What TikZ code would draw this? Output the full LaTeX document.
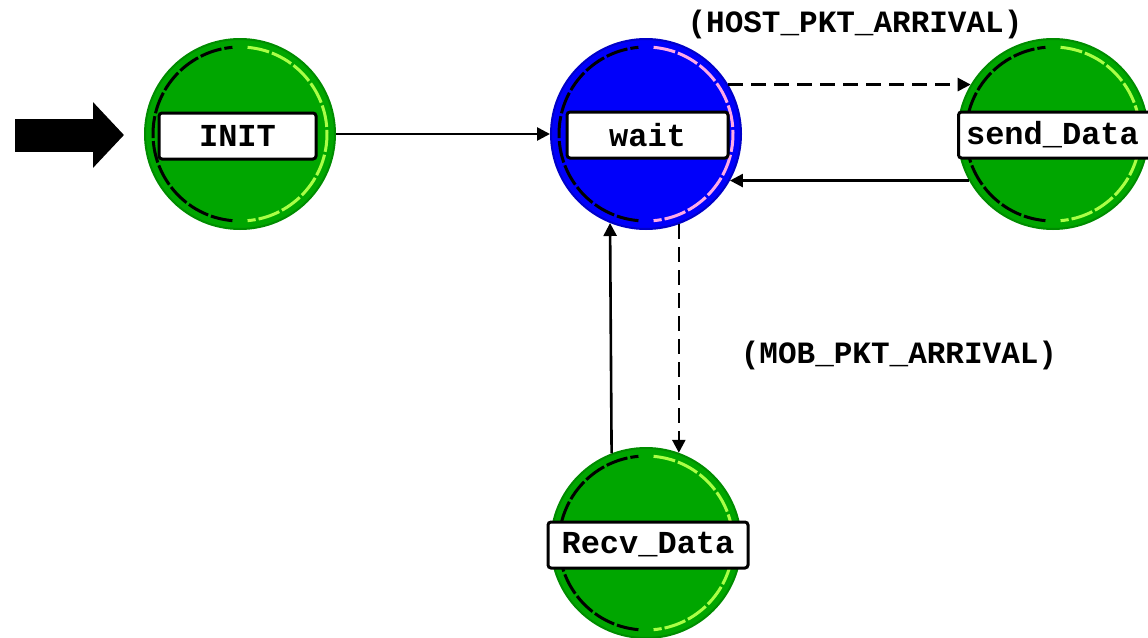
\documentclass[tikz,border=0pt]{standalone}
\usepackage{fontspec}
\setmonofont{Liberation Mono}
\usetikzlibrary{arrows.meta,calc}
\definecolor{stgreen}{RGB}{0,166,0}
\definecolor{stgreenedge}{RGB}{0,140,0}
\definecolor{stblue}{RGB}{0,0,250}
\definecolor{stblueedge}{RGB}{0,0,200}
\definecolor{ringlight}{RGB}{170,255,70}
\definecolor{ringpink}{RGB}{255,170,230}
\tikzset{
  state/.style={circle, minimum size=190pt, inner sep=0pt, draw=stgreenedge, line width=2pt, fill=stgreen},
  bluestate/.style={state, draw=stblueedge, fill=stblue},
  namebox/.style={draw=black, line width=3pt, fill=white, rounded corners=3pt, inner sep=0pt,
    minimum height=46pt, font=\fontsize{32}{32}\selectfont\ttfamily\bfseries},
  cond/.style={font=\fontsize{31}{31}\selectfont\ttfamily\bfseries, inner sep=0pt},
  trans/.style={draw=black, line width=2.6pt, -{Triangle[length=13pt,width=13pt]}},
  dtrans/.style={trans, dash pattern=on 15pt off 8pt},
}
\begin{document}
\begin{tikzpicture}[x=1pt,y=-1pt]
\useasboundingbox (0,0) rectangle (1148,637);
\clip (0,0) rectangle (1148,637);
% states
\node[state] (INIT) at (240,134) {};
\node[bluestate] (wait) at (646,134) {};
\node[state] (send) at (1053,134) {};
\node[state] (recv) at (646,543) {};
% inner rings
\foreach \c/\lt in {INIT/ringlight, send/ringlight, recv/ringlight, wait/ringpink}{
  \draw[black, line width=3pt, dash pattern=on 22pt off 3pt] ($(\c.center)+(95:87)$) arc[start angle=95, end angle=265, radius=87];
  \draw[\lt, line width=3pt, dash pattern=on 22pt off 3pt] ($(\c.center)+(-85:87)$) arc[start angle=-85, end angle=85, radius=87];
}
% name boxes
\node[namebox, minimum width=157pt] (INITbox) at (237.5,136) {INIT};
\node[namebox, minimum width=161pt] (waitbox) at (647.5,135) {wait};
\node[namebox, minimum width=196pt, anchor=west] (sendbox) at (957,135) {\hspace*{4pt}send\_Data\hspace*{12pt}};
\node[namebox, minimum width=200pt] (recvbox) at (648,545) {Recv\_Data};
% initial arrow
\coordinate (start) at (15,135);
\coordinate (startend) at (124,135);
\draw[line width=33pt, -{Triangle[length=31pt,width=64pt]}] (start) -- (startend);
% transitions
\draw[trans] (INIT.east) -- (wait.west);
\draw[dtrans] (wait.31) -- (send.149);
\draw[trans] (send.-151) -- (wait.-29);
\draw[dtrans] (wait.-70) -- (recv.70);
\draw[trans] (recv.111.6) -- (wait.248.4);
% conditions
\node[cond] (c1) at (855,24) {(HOST\_PKT\_ARRIVAL)};
\node[cond] (c2) at (899,355) {(MOB\_PKT\_ARRIVAL)};
\end{tikzpicture}
\end{document}
